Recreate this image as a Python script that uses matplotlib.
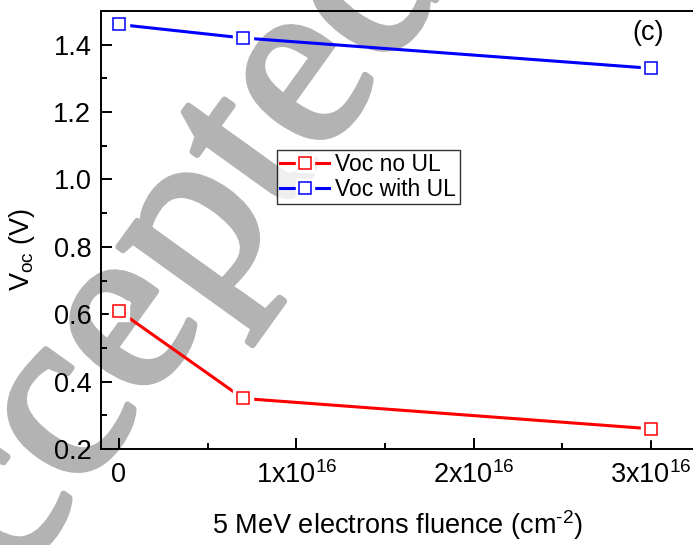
import matplotlib
matplotlib.use('Agg')
import matplotlib.pyplot as plt
import matplotlib.patheffects as pe
from matplotlib.lines import Line2D
from matplotlib.ticker import MultipleLocator, FixedLocator

# data
fluence = [0.0, 0.7e16, 3.0e16]
voc_no_ul = [0.61, 0.35, 0.26]
voc_with_ul = [1.46, 1.42, 1.33]
series_labels = ["Voc no UL", "Voc with UL"]
xtick_values = [0, 1e16, 2e16, 3e16]
xtick_labels = ["0", r"$\mathregular{1x10^{16}}$", r"$\mathregular{2x10^{16}}$", r"$\mathregular{3x10^{16}}$"]

plt.rcParams['font.family'] = ['Liberation Sans', 'DejaVu Sans']
plt.rcParams['mathtext.fontset'] = 'custom'
plt.rcParams['mathtext.rm'] = 'Liberation Sans'

fig = plt.figure(figsize=(6.93, 5.45), dpi=100)
ax = fig.add_axes([101 / 693, 96 / 545, 1 - 101 / 693, 438 / 545])
ax.patch.set_visible(False)

colors = ['#ff0000', '#0000ff']
handles = []
for vals, c in zip([voc_no_ul, voc_with_ul], colors):
    ax.plot(fluence, vals, '-', color=c, lw=2.2, zorder=2)
    # white squares give the gap between line and marker
    ax.plot(fluence, vals, 's', ms=14, mfc='white', mec='white', zorder=3)
    ax.plot(fluence, vals, 's', ms=8.5, mfc='white', mec=c, mew=1.1, zorder=4)
    h = (Line2D([], [], color=c, lw=2.2),
         Line2D([], [], ls='none', marker='s', ms=13, mfc='white', mec='white'),
         Line2D([], [], ls='none', marker='s', ms=8.5, mfc='white', mec=c, mew=1.1))
    handles.append(h)

ax.set_xlim(-0.1015e16, 3.237e16)
ax.set_ylim(0.2, 1.5)
ax.xaxis.set_major_locator(FixedLocator(xtick_values))
ax.set_xticklabels(xtick_labels)
ax.xaxis.set_minor_locator(MultipleLocator(0.5e16))
ax.yaxis.set_major_locator(MultipleLocator(0.2))
ax.yaxis.set_minor_locator(MultipleLocator(0.1))
ax.tick_params(which='both', direction='in', width=1.4, labelsize=19.5, top=False, right=False)
ax.tick_params(which='major', length=8)
ax.tick_params(which='minor', length=4.5)
ax.tick_params(axis='x', pad=9)
ax.tick_params(axis='y', pad=7)
ax.spines['right'].set_visible(False)
for s in ['left', 'bottom', 'top']:
    ax.spines[s].set_linewidth(1.4)

ax.set_xlabel(r"5 MeV electrons fluence (cm$^{\mathregular{\text{-}2}}$)", fontsize=19.5)
ax.set_ylabel(r"V$_{\mathregular{oc}}$ (V)", fontsize=19.5)
ax.xaxis.set_label_coords(0.5, -(525 - 449) / 438, transform=ax.transAxes)
ax.yaxis.set_label_coords(-(101 - 22) / 592, (449 - 249) / 438, transform=ax.transAxes)
ax.xaxis.label.set_va('center')
ax.yaxis.label.set_va('center')

leg = ax.legend(handles, series_labels, loc='upper left',
                bbox_to_anchor=(277 / 693, 1 - 150 / 545), bbox_transform=fig.transFigure,
                fontsize=16.5, frameon=True, fancybox=False, borderaxespad=0,
                handlelength=2.1, handletextpad=0.3, labelspacing=0.05,
                borderpad=0.15)
leg.get_frame().set_edgecolor('black')
leg.get_frame().set_linewidth(1.0)

fig.text(648 / 693, 1 - 33 / 545, "(c)", fontsize=19.5, ha='center', va='center')

# watermark, behind the axes content
fig.text(135 / 693, 1 - 316 / 545, "Accepted", fontsize=178, family='Liberation Serif',
         color='#b3b3b3', rotation=54.3, rotation_mode='anchor',
         ha='center', va='center', zorder=-1,
         path_effects=[pe.withStroke(linewidth=4.5, foreground='#b3b3b3')])

fig.savefig('out.png', dpi=100)
